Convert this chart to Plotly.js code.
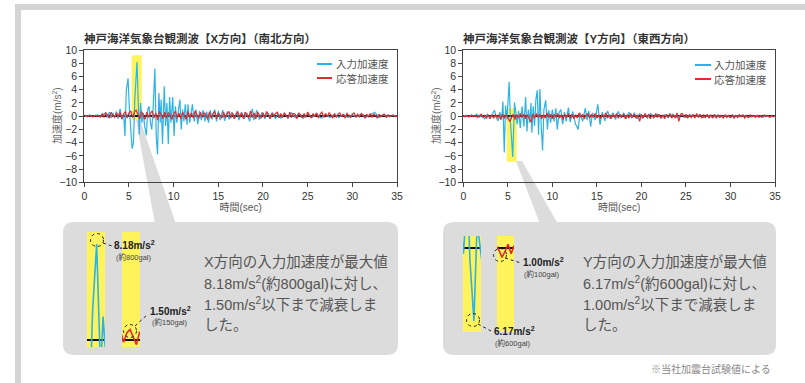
<!DOCTYPE html>
<html><head><meta charset="utf-8">
<script src="https://cdn.plot.ly/plotly-3.0.1.min.js"></script>
<style>html,body{margin:0;padding:0;background:#fff;}#chart{width:805px;height:383px;}</style>
</head><body><div id="chart"></div>
<script>
// ---- Data ----
// X direction (N-S) input acceleration: time [s], value [m/s2]
const xInT = [0,0.3,0.6,0.9,1.2,1.5,1.8,2.1,2.4,2.6,2.8,3.0,3.2,3.4,3.6,3.8,4.0,4.2,4.4,4.55,4.7,4.9,5.05,5.2,5.35,5.5,5.65,5.9,6.05,6.15,6.3,6.45,6.6,6.75,6.95,7.1,7.25,7.4,7.55,7.7,7.9,8.05,8.2,8.35,8.5,8.6,8.75,8.95,9.1,9.25,9.4,9.55,9.7,9.9,10.05,10.2,10.35,10.5,10.7,10.85,11.0,11.15,11.3,11.5,11.6,11.8,12.1,12.3,12.5,12.7,12.9,13.1,13.3,13.5,13.7,13.9,14.1,14.3,14.6,14.8,15.0,15.2,15.5,15.7,16.0,16.2,16.5,16.8,17.1,17.3,17.6,17.9,18.2,18.5,18.8,19.0,19.3,19.6,19.9,20.2,20.5,20.8,21.1,21.4,21.7,22.0,22.4,22.8,23.2,23.6,24.0,24.5,25.0,25.5,26.0,26.5,27.0,27.5,28.0,28.5,29.0,29.5,30.0,30.5,31.0,31.5,32.0,32.5,33.0,33.5,34.0,34.5,35.0];
const xInV = [0.1,-0.1,0.2,-0.1,0.1,0.2,-0.2,0.3,0.5,-0.2,0.6,-0.3,0.5,-0.2,0.7,-0.4,1.1,-0.5,0.4,-3.0,3.9,5.7,1.0,-1.5,-4.9,-4.0,2.5,8.18,1.0,-2.8,2.0,-1.0,0.5,-1.5,-2.9,1.0,1.5,-1.0,-2.0,1.0,7.2,-3.0,-5.8,3.5,-1.0,2.5,-4.2,4.5,-1.5,2.0,-4.2,2.9,-1.0,2.9,-3.0,1.5,-1.0,0.8,2.5,-2.0,1.0,-0.8,1.8,-1.3,1.8,-1.0,1.8,-0.8,1.0,-1.2,0.8,-0.6,0.9,-0.8,0.7,-1.0,0.9,-0.5,1.0,-0.8,0.8,-0.6,0.9,-0.7,0.7,-0.5,0.6,-0.4,0.8,-0.6,0.6,-0.4,0.5,-0.8,1.1,-0.6,0.9,-0.5,0.6,-0.4,0.5,-0.3,0.5,-0.4,0.4,-0.3,0.4,-0.3,0.5,-0.2,0.4,-0.3,0.3,-0.2,0.4,-0.3,0.3,-0.2,0.3,-0.2,0.3,-0.2,0.2,-0.1,0.3,-0.2,0.2,0.6,-0.2,0.2,-0.1,0.1,0.0];
// X direction response acceleration, sampled every resDt seconds from t=0
const xResV = [0.0,0.1,-0.1,0.1,0.0,-0.1,0.1,0.0,0.1,-0.1,
 0.4,-0.2,0.5,0.2,-0.3,0.6,0.1,-0.2,0.5,-0.1,
 0.6,-0.4,0.3,0.7,-0.3,0.5,0.8,-0.2,0.6,0.9,
 0.3,-0.4,0.7,0.2,-0.5,0.6,-0.2,0.4,0.8,-0.3,
 0.5,-0.6,0.7,0.2,-0.4,0.6,-0.3,0.5,0.2,-0.5,
 0.4,0.7,-0.3,0.5,-0.4,0.6,0.1,-0.5,0.7,-0.2,
 0.5,-0.3,0.8,0.2,-0.4,0.6,-0.2,0.5,0.3,-0.5,
 0.6,-0.3,0.4,0.7,-0.4,0.5,0.1,-0.3,0.6,-0.2,
 0.4,0.7,-0.3,0.5,-0.4,0.3,0.6,-0.2,0.5,-0.4,
 0.6,0.2,-0.3,0.8,-0.2,0.5,-0.4,0.6,0.1,-0.3,
 0.5,-0.2,0.7,0.3,-0.4,0.5,-0.1,0.4,0.6,-0.3,
 0.4,-0.2,0.5,0.1,-0.3,0.6,-0.2,0.4,0.3,-0.4,
 0.5,0.2,-0.3,0.4,-0.2,0.6,0.1,-0.3,0.4,-0.1,
 0.5,-0.3,0.3,0.6,-0.2,0.4,-0.1,0.5,0.2,-0.3,
 0.4,-0.2,0.3,0.5,-0.1,0.3,-0.3,0.4,0.1,-0.2,
 0.3,0.5,-0.2,0.3,-0.1,0.4,0.2,-0.3,0.3,-0.1,
 0.4,-0.2,0.3,0.1,-0.3,0.3,-0.1,0.2,0.3,-0.2,
 0.2,-0.1,0.1,0.2,-0.1,0.0];
// Y direction (E-W) input acceleration
const yInT = [0,0.3,0.6,0.9,1.2,1.5,1.8,2.1,2.4,2.7,3.0,3.3,3.5,3.7,3.9,4.1,4.3,4.45,4.6,4.75,4.9,5.15,5.3,5.55,5.75,5.9,6.05,6.2,6.4,6.6,6.8,7.0,7.15,7.3,7.45,7.6,7.7,7.85,8.0,8.15,8.3,8.45,8.6,8.75,8.9,9.05,9.25,9.45,9.6,9.8,10.0,10.2,10.4,10.55,10.75,10.95,11.15,11.35,11.55,11.8,12.0,12.3,12.6,12.9,13.1,13.4,13.7,13.9,14.1,14.3,14.5,14.8,15.1,15.35,15.6,15.9,16.2,16.5,16.8,17.1,17.4,17.7,18.0,18.3,18.6,18.9,19.2,19.5,19.8,20.1,20.4,20.7,21.0,21.4,21.8,22.2,22.6,23.0,23.5,24.0,24.5,25.0,25.5,26.0,26.5,27.0,27.5,28.0,28.5,29.0,29.5,30.0,30.5,31.0,31.5,32.0,32.5,33.0,33.5,34.0,34.5,35.0];
const yInV = [0.0,0.1,-0.1,0.2,-0.1,0.3,-0.2,0.2,-0.4,0.3,-0.3,0.5,0.9,-0.2,-0.7,0.6,-0.5,2.2,-5.5,1.6,-0.5,5.2,-1.0,-6.17,2.1,0.5,-1.2,0.8,-1.8,1.5,-1.6,2.9,-2.3,1.0,-1.0,2.0,-2.5,1.5,-1.5,2.5,3.9,-2.8,4.1,-1.5,-5.2,1.0,2.4,-2.0,0.9,-1.0,1.0,-0.8,1.2,-2.0,0.5,1.0,-1.2,0.6,-0.8,1.3,-0.9,0.7,-1.2,-2.0,0.5,-0.8,1.2,-0.6,0.8,-1.6,0.5,-0.6,1.8,-1.3,0.6,-0.7,0.8,-0.4,0.5,-0.5,0.7,-0.3,0.5,-0.4,0.6,-0.3,0.5,-0.4,0.4,-0.3,0.3,-0.3,0.4,-0.2,0.3,-0.3,0.2,-0.2,0.3,-0.2,0.2,-0.2,0.2,-0.1,0.2,-0.2,0.1,-0.2,0.1,-0.1,0.1,-0.2,0.1,-0.1,0.1,-0.2,-0.1,0.1,-0.2,0.0,-0.1,0.0];
// Y direction response acceleration, sampled every resDt seconds from t=0
const yResV = [0.0,-0.1,0.1,-0.1,0.0,0.1,-0.1,0.1,-0.2,0.1,
 0.3,-0.2,0.1,-0.3,0.2,-0.4,0.2,-0.3,0.3,-0.2,
 0.2,-0.5,0.3,-0.3,0.2,-0.2,-0.8,-0.3,0.3,-0.5,
 0.2,-0.3,0.4,-0.2,0.3,-0.4,0.2,-0.3,-0.9,0.3,
 -0.3,0.4,-0.2,0.3,-0.4,0.2,-0.3,0.5,-0.2,0.3,
 -0.4,0.3,-0.2,0.4,-0.3,0.2,-0.5,0.3,-0.2,0.4,
 -0.3,0.3,-0.4,0.2,-0.3,0.5,-0.2,0.3,-0.4,0.2,
 0.4,-0.3,0.3,-0.2,0.4,-0.3,0.2,-0.4,0.3,-0.2,
 0.5,-0.3,0.2,-0.4,0.3,-0.2,0.4,-0.3,0.3,-0.2,
 0.3,-0.4,0.2,-0.3,0.4,-0.2,0.3,-0.3,0.2,-0.8,
 0.3,-0.3,0.4,-0.2,0.3,-0.4,0.2,-0.3,0.4,-0.2,
 0.3,-0.3,0.2,-0.4,0.3,-0.2,0.4,-0.3,0.2,-0.3,
 0.5,-0.8,0.3,0.4,-0.2,0.3,-0.3,0.2,-0.2,0.3,
 -0.3,0.4,-0.2,0.3,-0.3,0.2,-0.2,0.3,-0.3,0.2,
 -0.2,0.3,-0.3,0.2,-0.2,0.1,-0.3,0.2,-0.2,0.1,
 -0.2,0.2,-0.3,0.1,-0.2,0.2,-0.1,0.2,-0.3,0.1,
 -0.2,0.2,-0.1,0.1,-0.2,0.1,-0.2,0.1,-0.1,0.2,
 -0.1,0.1,-0.2,0.1,-0.1,0.0];
const resDt = 0.2;
const xTicks = [0,5,10,15,20,25,30,35];
const yTicks = [-10,-8,-6,-4,-2,0,2,4,6,8,10];
const seriesNames = ['入力加速度','応答加速度'];
const chartTitles = ['神戸海洋気象台観測波【X方向】（南北方向）','神戸海洋気象台観測波【Y方向】（東西方向）'];
const xTitle = '時間(sec)';
const yTitle = '加速度(m/s<sup>2</sup>)';
// highlighted windows [t0,t1,v0,v1]
const hlX = [5.3,6.42,-0.6,9.2];
const hlY = [4.87,5.99,-6.9,1.17];
const boxTextX = ['X方向の入力加速度が最大値','8.18m/s<sup>2</sup>(約800gal)に対し、','1.50m/s<sup>2</sup>以下まで減衰しま','した。'];
const boxTextY = ['Y方向の入力加速度が最大値','6.17m/s<sup>2</sup>(約600gal)に対し、','1.00m/s<sup>2</sup>以下まで減衰しま','した。'];

// ---- helpers ----
const W = 805, H = 383;
const X = p => p / W, Y = p => 1 - p / H;
const resT = arr => arr.map((_, i) => +(i * resDt).toFixed(2));
const BLUE = '#2bb3e8', RED = '#e32b2b', YEL = '#fff35c', GRAY = '#dcdcdc';
const FONT = 'Liberation Sans, Arial, Noto Sans CJK JP, sans-serif';

function line(t, v, color, xa, ya, w) {
  return {type: 'scatter', mode: 'lines', x: t, y: v, xaxis: xa, yaxis: ya,
    line: {color: color, width: w || 1.2}, hoverinfo: 'skip', showlegend: false};
}
const traces = [
  line(xInT, xInV, BLUE, 'x', 'y'),
  line(resT(xResV), xResV, RED, 'x', 'y'),
  line(yInT, yInV, BLUE, 'x2', 'y2'),
  line(resT(yResV), yResV, RED, 'x2', 'y2'),
  // inset zooms
  line(xInT, xInV, BLUE, 'x3', 'y3', 1.6),
  line(resT(xResV), xResV, RED, 'x4', 'y4', 1.6),
  line(yInT, yInV, BLUE, 'x5', 'y5', 1.6),
  line(resT(yResV), yResV, RED, 'x6', 'y6', 1.6)
];

function mainX(dom, anchor) {
  return {domain: dom, anchor: anchor, range: [0, 35], tickvals: xTicks, ticks: 'outside', ticklen: 4,
    tickcolor: '#444', showline: true, linecolor: '#444', linewidth: 1, mirror: true,
    zeroline: false, showgrid: false, tickfont: {family: FONT, size: 10.5, color: '#333'},
    title: {text: xTitle, font: {family: FONT, size: 10, color: '#555'}, standoff: 2}};
}
function mainY(anchor) {
  return {domain: [Y(182.3), Y(50)], anchor: anchor, range: [-10, 10], tickvals: yTicks, ticks: 'outside', ticklen: 4,
    tickcolor: '#444', showline: true, linecolor: '#444', linewidth: 1, mirror: true,
    zeroline: true, zerolinecolor: '#111', zerolinewidth: 1.5, showgrid: false,
    tickfont: {family: FONT, size: 10.5, color: '#333'}};
}
function insetX(dom, anchor, hl) {
  return {domain: dom, anchor: anchor, range: [hl[0], hl[1]], visible: false, fixedrange: true};
}
function insetY(dom, anchor, r) {
  return {domain: dom, anchor: anchor, range: r, showticklabels: false, showgrid: false, ticks: '',
    showline: false, zeroline: true, zerolinecolor: '#111', zerolinewidth: 1.5, fixedrange: true};
}

function rr(x0, y0, x1, y1, r) {
  return `M${X(x0 + r)},${Y(y0)} L${X(x1 - r)},${Y(y0)} Q${X(x1)},${Y(y0)} ${X(x1)},${Y(y0 + r)} ` +
    `L${X(x1)},${Y(y1 - r)} Q${X(x1)},${Y(y1)} ${X(x1 - r)},${Y(y1)} L${X(x0 + r)},${Y(y1)} ` +
    `Q${X(x0)},${Y(y1)} ${X(x0)},${Y(y1 - r)} L${X(x0)},${Y(y0 + r)} Q${X(x0)},${Y(y0)} ${X(x0 + r)},${Y(y0)} Z`;
}
function poly(pts) {
  return 'M' + pts.map(p => `${X(p[0])},${Y(p[1])}`).join(' L') + ' Z';
}
function prect(x0, y0, x1, y1, color) {
  return {type: 'rect', xref: 'paper', yref: 'paper', x0: X(x0), x1: X(x1), y0: Y(y1), y1: Y(y0),
    fillcolor: color, line: {width: 0}, layer: 'below'};
}
function pline(x0, y0, x1, y1, color, w, dash) {
  return {type: 'line', xref: 'paper', yref: 'paper', x0: X(x0), y0: Y(y0), x1: X(x1), y1: Y(y1),
    line: {color: color, width: w || 2, dash: dash || 'solid'}, layer: 'above'};
}
function circ(cx, cy, r) {
  return {type: 'circle', xref: 'paper', yref: 'paper', x0: X(cx - r), x1: X(cx + r), y0: Y(cy + r), y1: Y(cy - r),
    line: {color: '#222', width: 1, dash: 'dot'}, layer: 'above'};
}

const shapes = [
  // outer frame
  prect(15, 4, 805, 10, '#d4d4d4'),
  prect(15, 4, 21, 383, '#d4d4d4'),
  // gray callout wedges and boxes
  {type: 'path', xref: 'paper', yref: 'paper', path: poly([[136, 120], [140, 120], [176, 224], [155, 224]]), fillcolor: GRAY, line: {width: 0}, layer: 'below'},
  {type: 'path', xref: 'paper', yref: 'paper', path: poly([[516, 161], [522, 161], [558, 224], [540, 224]]), fillcolor: GRAY, line: {width: 0}, layer: 'below'},
  {type: 'path', xref: 'paper', yref: 'paper', path: rr(63, 222, 398, 355, 11), fillcolor: GRAY, line: {width: 0}, layer: 'below'},
  {type: 'path', xref: 'paper', yref: 'paper', path: rr(443, 222, 776, 355, 11), fillcolor: GRAY, line: {width: 0}, layer: 'below'},
  // highlight windows in main charts
  {type: 'rect', xref: 'x', yref: 'y', x0: hlX[0], x1: hlX[1], y0: hlX[2], y1: hlX[3], fillcolor: YEL, line: {width: 0}, layer: 'below'},
  {type: 'rect', xref: 'x2', yref: 'y2', x0: hlY[0], x1: hlY[1], y0: hlY[2], y1: hlY[3], fillcolor: YEL, line: {width: 0}, layer: 'below'},
  // inset strips
  prect(87, 232, 105, 347, YEL), prect(122, 232, 140, 347, YEL),
  prect(463, 236, 481, 332, YEL), prect(497, 236, 514, 332, YEL),
  // legends
  pline(317, 64, 332, 64, BLUE, 2), pline(317, 78, 332, 78, RED, 2),
  pline(695, 65, 711, 65, BLUE, 2), pline(695, 79, 711, 79, RED, 2),
  // dashed markers + leaders
  circ(97, 240, 6.5), pline(103, 243, 112, 246, '#222', 1, 'dot'),
  circ(130, 331, 6.5), pline(135, 326, 148, 314, '#222', 1, 'dot'),
  circ(473, 320, 6.5), pline(478, 324, 491, 331, '#222', 1, 'dot'),
  circ(500, 255, 6.5), pline(505, 258, 521, 263, '#222', 1, 'dot')
];

function ann(text, x, y, size, color, opts) {
  return Object.assign({text: text, xref: 'paper', yref: 'paper', x: X(x), y: Y(y), xanchor: 'left', yanchor: 'middle',
    showarrow: false, font: {family: FONT, size: size, color: color}}, opts || {});
}
const annotations = [
  ann('<b>' + chartTitles[0] + '</b>', 82, 38, 11.5, '#333'),
  ann('<b>' + chartTitles[1] + '</b>', 461, 38, 11.5, '#333'),
  ann(yTitle, 57, 116, 10, '#666', {xanchor: 'center', textangle: -90}),
  ann(yTitle, 436, 116, 10, '#666', {xanchor: 'center', textangle: -90}),
  ann(seriesNames[0], 334, 64, 10.5, '#555'), ann(seriesNames[1], 334, 79, 10.5, '#555'),
  ann(seriesNames[0], 712, 65, 10.5, '#555'), ann(seriesNames[1], 712, 80, 10.5, '#555'),
  ann('<b>8.18m/s<sup>2</sup></b>', 112, 245, 10, '#222'),
  ann('(約800gal)', 114, 257, 7.5, '#444'),
  ann('<b>1.50m/s<sup>2</sup></b>', 148, 311, 10, '#222'),
  ann('(約150gal)', 150, 322, 7.5, '#444'),
  ann('<b>1.00m/s<sup>2</sup></b>', 521, 262, 10, '#222'),
  ann('(約100gal)', 522, 274, 7.5, '#444'),
  ann('<b>6.17m/s<sup>2</sup></b>', 492, 331, 10, '#222'),
  ann('(約600gal)', 493, 343, 7.5, '#444'),
  ann('※当社加震台試験値による', 773, 369, 10, '#888', {xanchor: 'right'})
];
boxTextX.forEach((t, i) => annotations.push(ann(t, 202, 262 + i * 21, 14.5, '#555')));
boxTextY.forEach((t, i) => annotations.push(ann(t, 581, 262 + i * 21, 14.5, '#555')));

const layout = {
  width: W, height: H, margin: {l: 0, r: 0, t: 0, b: 0},
  paper_bgcolor: '#fff', plot_bgcolor: 'rgba(0,0,0,0)', showlegend: false,
  font: {family: FONT},
  xaxis: mainX([X(84.3), X(397)], 'y'), yaxis: mainY('x'),
  xaxis2: mainX([X(463.3), X(775)], 'y2'), yaxis2: mainY('x2'),
  xaxis3: insetX([X(87), X(105)], 'y3', hlX), yaxis3: insetY([Y(347), Y(232)], 'x3', [-0.6, 9.2]),
  xaxis4: insetX([X(122), X(140)], 'y4', hlX), yaxis4: insetY([Y(347), Y(232)], 'x4', [-0.6, 9.2]),
  xaxis5: insetX([X(463), X(481)], 'y5', hlY), yaxis5: insetY([Y(332), Y(236)], 'x5', [-7.1, 1.0]),
  xaxis6: insetX([X(497), X(514)], 'y6', hlY), yaxis6: insetY([Y(332), Y(236)], 'x6', [-7.1, 1.0]),
  shapes: shapes, annotations: annotations
};
Plotly.newPlot('chart', traces, layout, {displayModeBar: false, staticPlot: true});
</script></body></html>
